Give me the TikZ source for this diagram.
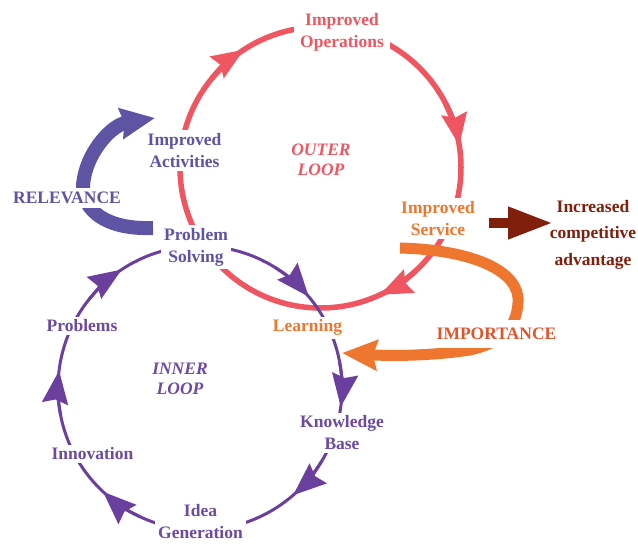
\documentclass[tikz,border=0pt]{standalone}
\usepackage{fontspec}
\setmainfont{Liberation Serif}
\usetikzlibrary{arrows.meta}
\pgfdeclarelayer{back}
\pgfsetlayers{back,main}

\definecolor{ringred}{HTML}{EF5661}
\definecolor{slatepurple}{HTML}{5D54A4}
\definecolor{ringpurple}{HTML}{6A3F9E}
\definecolor{innertext}{HTML}{6C4A9F}
\definecolor{servorange}{HTML}{EE762E}
\definecolor{imptext}{HTML}{E0562C}
\definecolor{darkred}{HTML}{7F1F0C}

\begin{document}
\begin{tikzpicture}[x=1pt,y=1pt,
  lbl/.style={font=\fontsize{17.5}{22}\selectfont\bfseries, fill=white, inner sep=3pt},
  twolines/.style={lbl, align=center},
  loopname/.style={lbl, align=center, font=\fontsize{17.5}{19.5}\selectfont\bfseries\itshape},
  outerring/.style={ringred, line width=5.5pt},
  innerring/.style={ringpurple, line width=3pt},
  outertip/.style={outerring, -{Stealth[length=32pt,width=25pt,inset=4pt]}},
  innertip/.style={innerring, -{Stealth[length=33pt,width=26pt,inset=4pt]}}]

\useasboundingbox (0,0) rectangle (638,544);

% ring centres
\coordinate (rc) at (320.5,376.5);
\coordinate (pc) at (200,156);

% labels
\node[twolines, text=ringred, inner xsep=6pt] (ops) at (342,511.5) {Improved\\Operations};
\node[loopname, text=ringred] (outer) at (321,384) {OUTER\\LOOP};
\node[twolines, text=slatepurple] (act) at (184.5,393.5) {Improved\\Activities};
\node[lbl, text=slatepurple, anchor=base, inner sep=4pt] (rel) at (67,340) {RELEVANCE};
\node[twolines, text=slatepurple] (ps) at (196,297) {Problem\\Solving};
\node[twolines, text=servorange] (svc) at (438,325.5) {Improved\\Service};
\node[lbl, align=center, fill=none, text=darkred,
      font=\fontsize{17.5}{26.5}\selectfont\bfseries] (inc) at (593,309.5) {Increased\\competitive\\advantage};
\node[lbl, text=servorange, anchor=base] (learn) at (307.5,212) {Learning};
\node[lbl, text=imptext, anchor=base, inner xsep=4pt, inner ysep=8pt] (imp) at (496.5,204) {IMPORTANCE};
\node[lbl, text=innertext, anchor=base] (prob) at (82,212) {Problems};
\node[loopname, text=innertext] (inner) at (180,165) {INNER\\LOOP};
\node[twolines, text=innertext] (kb) at (342,111) {Knowledge\\Base};
\node[lbl, text=innertext, anchor=base] (innov) at (92.5,84) {Innovation};
\node[twolines, text=innertext] (idea) at (200.5,22.5) {Idea\\Generation};

% arrow end points
\coordinate (relS) at (153,316);
\coordinate (relT) at (155,426);
\coordinate (impS) at (400,296);
\coordinate (impT) at (342,191);
\coordinate (advS) at (489,321);
\coordinate (advT) at (553,321);

\begin{pgfonlayer}{back}
  % outer loop
  \draw[outerring] (rc) circle[radius=140.5pt];
  \foreach \a in {123,9,-65}
    \draw[outertip] (rc) ++({\a+18}:140.5pt) arc[start angle=\a+18, end angle=\a, radius=140.5pt];

  % inner loop
  \draw[innerring] (pc) circle[radius=142pt];
  \foreach \a in {40,-7.6,-49,-133,173,123.5}
    \draw[innertip] (pc) ++({\a+18}:142pt) arc[start angle=\a+18, end angle=\a, radius=142pt];

  % relevance arrow
  \draw[slatepurple, line width=14pt, -{Stealth[length=34pt,width=30pt,inset=3pt]}]
    (relS) .. controls (100,314) and (78,339) .. (84,366)
           .. controls (89,394) and (112,419) .. (relT);

  % importance arrow
  \draw[servorange, line width=11pt, -{Stealth[length=35pt,width=30pt,inset=4pt]}]
    (impS) .. controls (475,294) and (521,272) .. (518,241)
           .. controls (516,214) and (500,201) .. (470,194)
           .. controls (430,188) and (390,188) .. (impT);
\end{pgfonlayer}

% improved service leads to competitive advantage
\draw[darkred, line width=10pt, -{Triangle[length=45pt,width=30pt]}] (advS) -- (advT);

\end{tikzpicture}
\end{document}
